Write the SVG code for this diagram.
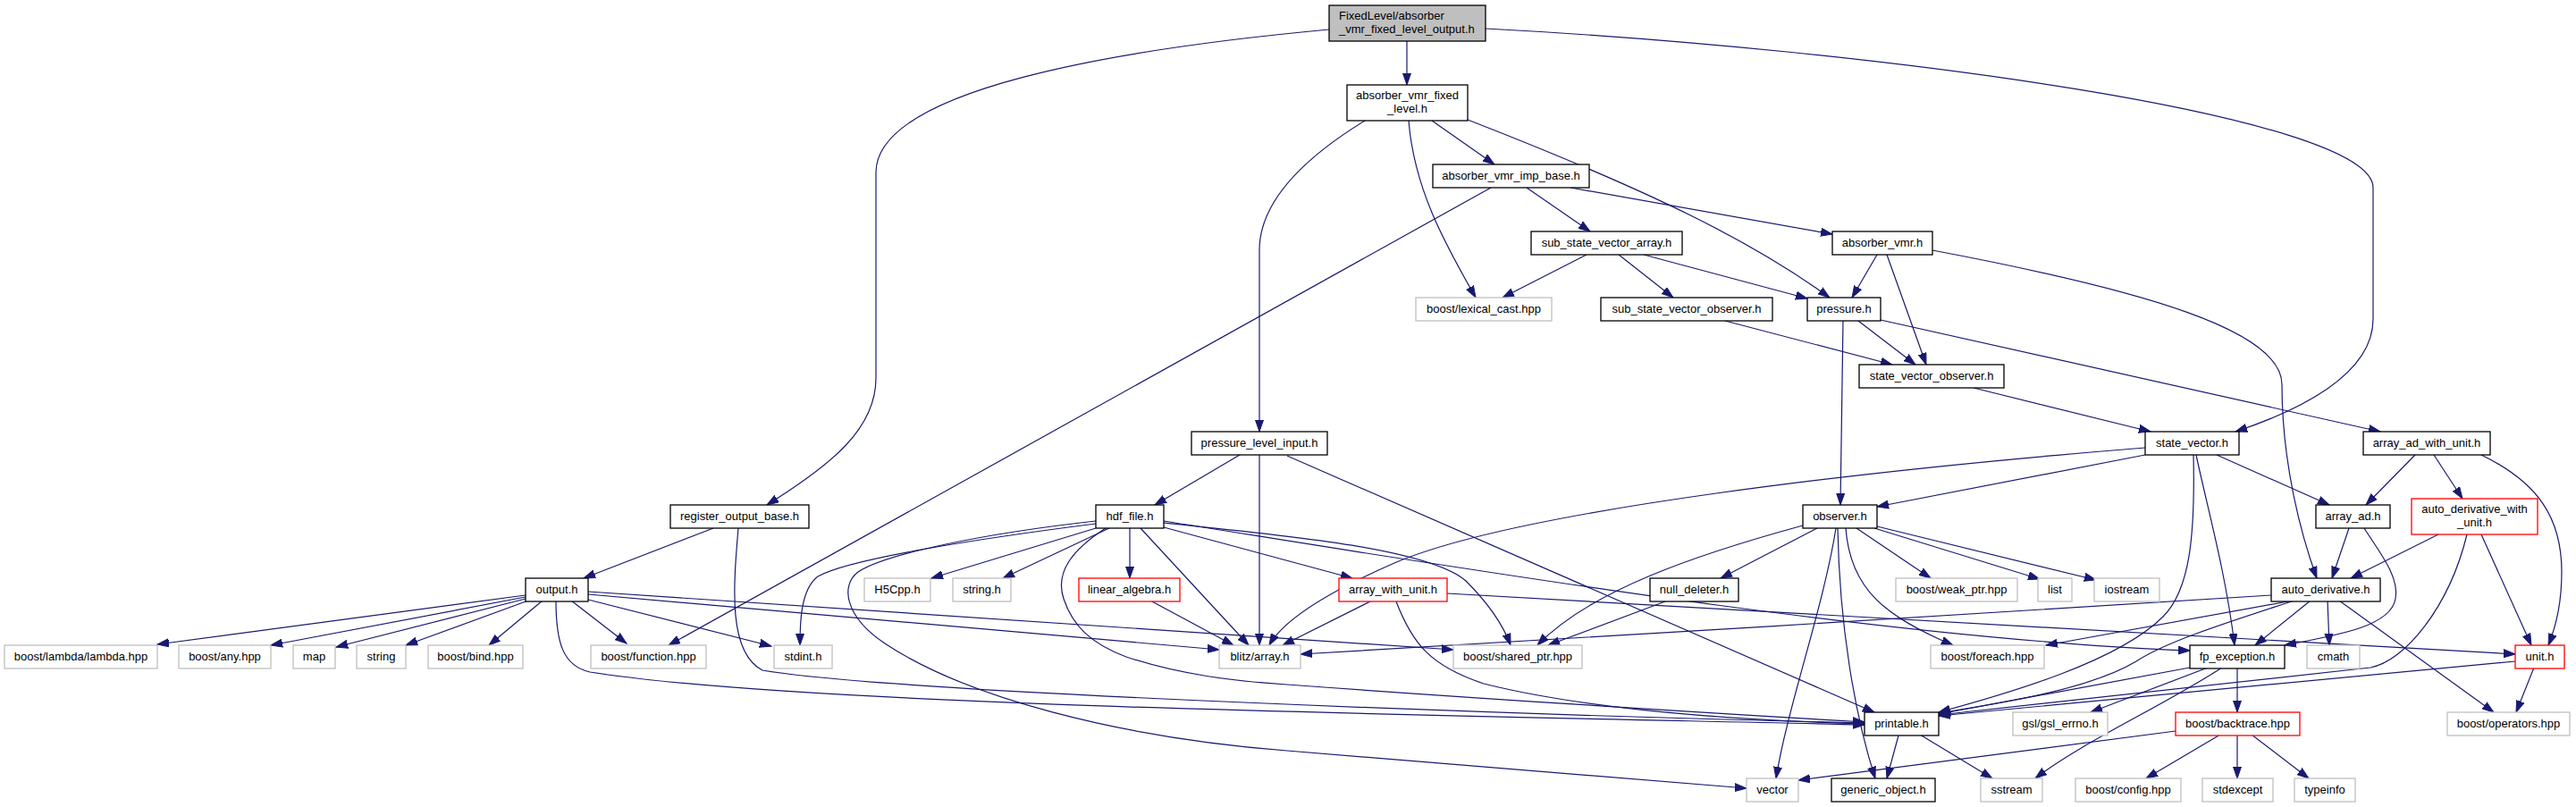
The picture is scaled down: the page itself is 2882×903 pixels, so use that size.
<svg xmlns="http://www.w3.org/2000/svg" width="2882" height="903" viewBox="0 0 2882 903">
<style>
.node rect{fill:#ffffff;stroke:#000000;stroke-width:1.3}
.node.ext rect{stroke:#bfbfbf}
.node.red rect{stroke:#ff0000}
.node.root rect{fill:#bfbfbf}
text{font-family:"Liberation Sans",Arial,sans-serif;font-size:13px;fill:#000000;text-anchor:middle}
text.l{text-anchor:start}
#edges path{fill:none;stroke:#191970;stroke-width:1.2;marker-end:url(#ah)}
</style>
<defs>
<marker id="ah" markerUnits="userSpaceOnUse" markerWidth="14" markerHeight="10" refX="13" refY="5" orient="auto">
<path d="M0,0.5 L13,5 L0,9.5 Z" fill="#191970" stroke="#191970" stroke-width="1"/>
</marker>
</defs>
<rect x="0" y="0" width="2882" height="903" fill="#ffffff"/>
<g id="edges">
<path d="M1574,46 L1574,95"/>
<path d="M1487,33 C1250,55 980,100 980,193 L980,423 C980,480 930,520 858,565"/>
<path d="M1662,32 C2100,55 2655,130 2655,210 L2655,357 C2655,420 2570,460 2501,483"/>
<path d="M1527,135 C1470,170 1409,220 1409,280 L1409,483"/>
<path d="M1576,135 C1582,210 1615,270 1651,333"/>
<path d="M1602,135 L1672,184"/>
<path d="M1642,134 C1850,215 1960,270 2047,333"/>
<path d="M1668,210 L748,722"/>
<path d="M1708,210 L1779,259"/>
<path d="M1757,210 L2050,262"/>
<path d="M1775,285 L1681,333"/>
<path d="M1811,285 L1872,333"/>
<path d="M1839,285 L2022,334"/>
<path d="M2100,285 L2072,333"/>
<path d="M2111,285 L2155,408"/>
<path d="M2162,280 C2400,325 2553,370 2553,430 C2553,520 2575,600 2592,647"/>
<path d="M2062,359 L2059,565"/>
<path d="M2079,359 L2143,408"/>
<path d="M2104,358 L2663,483"/>
<path d="M1930,359 L2117,408"/>
<path d="M2208,434 L2406,483"/>
<path d="M2400,501 C2100,525 1700,570 1560,630 C1480,665 1435,695 1420,722"/>
<path d="M2400,509 L2100,567"/>
<path d="M2454,509 C2456,600 2450,660 2420,690 C2370,740 2250,775 2169,797"/>
<path d="M2457,509 C2470,570 2490,640 2500,722"/>
<path d="M2480,509 L2606,565"/>
<path d="M2702,509 L2647,565"/>
<path d="M2723,509 L2755,558"/>
<path d="M2776,509 C2840,540 2866,580 2866,640 C2866,680 2858,705 2851,722"/>
<path d="M2628,591 L2609,647"/>
<path d="M2645,591 C2660,615 2685,645 2680,670 C2675,700 2620,710 2556,722"/>
<path d="M2728,598 L2630,647"/>
<path d="M2776,598 L2832,722"/>
<path d="M2760,598 C2740,680 2690,740 2652,747 L2169,800"/>
<path d="M2541,666 C2200,690 1800,710 1455,732"/>
<path d="M2565,672 L2289,722"/>
<path d="M2585,672 L2523,722"/>
<path d="M2604,672 L2606,722"/>
<path d="M2617,672 L2790,797"/>
<path d="M2567,672 C2480,700 2420,720 2390,740 C2340,770 2250,785 2169,798"/>
<path d="M2450,747 L2169,799"/>
<path d="M2470,747 L2339,797"/>
<path d="M2486,747 C2420,790 2330,830 2277,871"/>
<path d="M2503,747 L2503,797"/>
<path d="M2434,818 L2012,873"/>
<path d="M2484,822 L2401,871"/>
<path d="M2503,822 L2503,871"/>
<path d="M2519,822 L2583,871"/>
<path d="M2814,740 L2169,801"/>
<path d="M2835,747 L2815,797"/>
<path d="M2148,822 L2229,871"/>
<path d="M2124,823 L2111,871"/>
<path d="M2033,591 L1925,647"/>
<path d="M2017,588 C1900,620 1780,660 1720,722"/>
<path d="M2054,591 C2040,680 2000,790 1987,871"/>
<path d="M2056,591 C2058,700 2075,800 2098,871"/>
<path d="M2065,591 C2070,660 2110,690 2185,722"/>
<path d="M2077,591 L2160,647"/>
<path d="M2097,591 L2282,648"/>
<path d="M2100,589 L2345,649"/>
<path d="M1863,673 L1732,722"/>
<path d="M798,591 L653,647"/>
<path d="M826,591 C820,660 815,730 853,750 C1000,775 1700,800 2086,809"/>
<path d="M588,666 L176,721"/>
<path d="M588,668 L303,722"/>
<path d="M588,670 L376,724"/>
<path d="M591,672 L454,722"/>
<path d="M607,672 L547,722"/>
<path d="M622,672 C622,720 630,745 660,752 C900,790 1600,800 2086,811"/>
<path d="M639,672 L701,720"/>
<path d="M658,671 L863,723"/>
<path d="M658,665 L1364,727"/>
<path d="M658,662 L1626,727"/>
<path d="M1387,509 L1292,565"/>
<path d="M1409,509 L1409,722"/>
<path d="M1440,510 L2097,797"/>
<path d="M1226,591 L1042,647"/>
<path d="M1241,591 L1122,647"/>
<path d="M1264,591 L1264,647"/>
<path d="M1276,591 L1397,722"/>
<path d="M1226,586 C1100,602 950,625 915,645 C895,660 895,700 895,722"/>
<path d="M1226,583 C1100,597 990,620 960,640 C940,655 945,690 990,720 C1080,780 1250,825 1440,840 C1650,858 1850,875 1954,882"/>
<path d="M1237,591 C1200,615 1180,640 1190,670 C1200,700 1220,720 1260,735 C1320,755 1380,762 1440,766 C1700,785 1950,800 2086,808"/>
<path d="M1302,590 L1513,647"/>
<path d="M1302,585 C1450,600 1600,615 1640,650 C1665,675 1682,700 1690,722"/>
<path d="M1302,583 C1600,630 2100,715 2450,728"/>
<path d="M1287,672 L1380,722"/>
<path d="M1535,672 L1435,722"/>
<path d="M1562,673 C1580,720 1600,745 1660,765 C1780,795 1950,806 2086,810"/>
<path d="M1619,664 L2814,732"/>
</g>
<g id="n_root" class="node root"><rect x="1487" y="6" width="175" height="40"/><text class="l" x="1498" y="22">FixedLevel/absorber</text><text class="l" x="1498" y="37">_vmr_fixed_level_output.h</text></g>
<g id="n_fixed_level" class="node"><rect x="1507" y="95" width="135" height="40"/><text x="1574.5" y="111">absorber_vmr_fixed</text><text x="1574.5" y="126">_level.h</text></g>
<g id="n_imp_base" class="node"><rect x="1603" y="184" width="175" height="26"/><text x="1690.5" y="201">absorber_vmr_imp_base.h</text></g>
<g id="n_sub_array" class="node"><rect x="1713" y="259" width="169" height="26"/><text x="1797.5" y="276">sub_state_vector_array.h</text></g>
<g id="n_absorber_vmr" class="node"><rect x="2050" y="259" width="112" height="26"/><text x="2106" y="276">absorber_vmr.h</text></g>
<g id="n_lexical_cast" class="node ext"><rect x="1584" y="333" width="152" height="26"/><text x="1660" y="350">boost/lexical_cast.hpp</text></g>
<g id="n_sub_observer" class="node"><rect x="1791" y="333" width="192" height="26"/><text x="1887" y="350">sub_state_vector_observer.h</text></g>
<g id="n_pressure" class="node"><rect x="2022" y="333" width="82" height="26"/><text x="2063" y="350">pressure.h</text></g>
<g id="n_sv_observer" class="node"><rect x="2080" y="408" width="162" height="26"/><text x="2161" y="425">state_vector_observer.h</text></g>
<g id="n_pli" class="node"><rect x="1333" y="483" width="152" height="26"/><text x="1409" y="500">pressure_level_input.h</text></g>
<g id="n_state_vector" class="node"><rect x="2400" y="483" width="105" height="26"/><text x="2452.5" y="500">state_vector.h</text></g>
<g id="n_array_ad_with_unit" class="node"><rect x="2644" y="483" width="142" height="26"/><text x="2715" y="500">array_ad_with_unit.h</text></g>
<g id="n_register" class="node"><rect x="750" y="565" width="155" height="26"/><text x="827.5" y="582">register_output_base.h</text></g>
<g id="n_hdf_file" class="node"><rect x="1226" y="565" width="76" height="26"/><text x="1264" y="582">hdf_file.h</text></g>
<g id="n_observer" class="node"><rect x="2017" y="565" width="83" height="26"/><text x="2058.5" y="582">observer.h</text></g>
<g id="n_array_ad" class="node"><rect x="2591" y="565" width="83" height="26"/><text x="2632.5" y="582">array_ad.h</text></g>
<g id="n_ad_with_unit" class="node red"><rect x="2698" y="558" width="141" height="40"/><text x="2768.5" y="574">auto_derivative_with</text><text x="2768.5" y="589">_unit.h</text></g>
<g id="n_output" class="node"><rect x="588" y="647" width="70" height="26"/><text x="623" y="664">output.h</text></g>
<g id="n_h5cpp" class="node ext"><rect x="967" y="647" width="74" height="26"/><text x="1004" y="664">H5Cpp.h</text></g>
<g id="n_string_h" class="node ext"><rect x="1066" y="647" width="65" height="26"/><text x="1098.5" y="664">string.h</text></g>
<g id="n_linear_algebra" class="node red"><rect x="1207" y="647" width="113" height="26"/><text x="1263.5" y="664">linear_algebra.h</text></g>
<g id="n_array_with_unit" class="node red"><rect x="1498" y="647" width="121" height="26"/><text x="1558.5" y="664">array_with_unit.h</text></g>
<g id="n_null_deleter" class="node"><rect x="1846" y="647" width="99" height="26"/><text x="1895.5" y="664">null_deleter.h</text></g>
<g id="n_weak_ptr" class="node ext"><rect x="2121" y="647" width="136" height="26"/><text x="2189" y="664">boost/weak_ptr.hpp</text></g>
<g id="n_list" class="node ext"><rect x="2280" y="647" width="38" height="26"/><text x="2299" y="664">list</text></g>
<g id="n_iostream" class="node ext"><rect x="2343" y="647" width="73" height="26"/><text x="2379.5" y="664">iostream</text></g>
<g id="n_auto_derivative" class="node"><rect x="2541" y="647" width="122" height="26"/><text x="2602" y="664">auto_derivative.h</text></g>
<g id="n_lambda" class="node ext"><rect x="5" y="722" width="171" height="26"/><text x="90.5" y="739">boost/lambda/lambda.hpp</text></g>
<g id="n_any" class="node ext"><rect x="200" y="722" width="103" height="26"/><text x="251.5" y="739">boost/any.hpp</text></g>
<g id="n_map" class="node ext"><rect x="328" y="722" width="47" height="26"/><text x="351.5" y="739">map</text></g>
<g id="n_string" class="node ext"><rect x="399" y="722" width="55" height="26"/><text x="426.5" y="739">string</text></g>
<g id="n_bind" class="node ext"><rect x="479" y="722" width="106" height="26"/><text x="532" y="739">boost/bind.hpp</text></g>
<g id="n_function" class="node ext"><rect x="661" y="722" width="129" height="26"/><text x="725.5" y="739">boost/function.hpp</text></g>
<g id="n_stdint" class="node ext"><rect x="866" y="722" width="65" height="26"/><text x="898.5" y="739">stdint.h</text></g>
<g id="n_blitz" class="node ext"><rect x="1364" y="722" width="91" height="26"/><text x="1409.5" y="739">blitz/array.h</text></g>
<g id="n_shared_ptr" class="node ext"><rect x="1626" y="722" width="144" height="26"/><text x="1698" y="739">boost/shared_ptr.hpp</text></g>
<g id="n_foreach" class="node ext"><rect x="2160" y="722" width="127" height="26"/><text x="2223.5" y="739">boost/foreach.hpp</text></g>
<g id="n_fp_exception" class="node"><rect x="2450" y="722" width="106" height="26"/><text x="2503" y="739">fp_exception.h</text></g>
<g id="n_cmath" class="node ext"><rect x="2581" y="722" width="59" height="26"/><text x="2610.5" y="739">cmath</text></g>
<g id="n_unit" class="node red"><rect x="2814" y="722" width="55" height="26"/><text x="2841.5" y="739">unit.h</text></g>
<g id="n_printable" class="node"><rect x="2086" y="797" width="83" height="26"/><text x="2127.5" y="814">printable.h</text></g>
<g id="n_gsl_errno" class="node ext"><rect x="2252" y="797" width="106" height="26"/><text x="2305" y="814">gsl/gsl_errno.h</text></g>
<g id="n_backtrace" class="node red"><rect x="2434" y="797" width="139" height="26"/><text x="2503.5" y="814">boost/backtrace.hpp</text></g>
<g id="n_operators" class="node ext"><rect x="2738" y="797" width="137" height="26"/><text x="2806.5" y="814">boost/operators.hpp</text></g>
<g id="n_vector" class="node ext"><rect x="1954" y="871" width="58" height="26"/><text x="1983" y="888">vector</text></g>
<g id="n_generic_object" class="node"><rect x="2049" y="871" width="116" height="26"/><text x="2107" y="888">generic_object.h</text></g>
<g id="n_sstream" class="node ext"><rect x="2216" y="871" width="69" height="26"/><text x="2250.5" y="888">sstream</text></g>
<g id="n_config" class="node ext"><rect x="2322" y="871" width="118" height="26"/><text x="2381" y="888">boost/config.hpp</text></g>
<g id="n_stdexcept" class="node ext"><rect x="2464" y="871" width="79" height="26"/><text x="2503.5" y="888">stdexcept</text></g>
<g id="n_typeinfo" class="node ext"><rect x="2567" y="871" width="68" height="26"/><text x="2601" y="888">typeinfo</text></g>
</svg>
